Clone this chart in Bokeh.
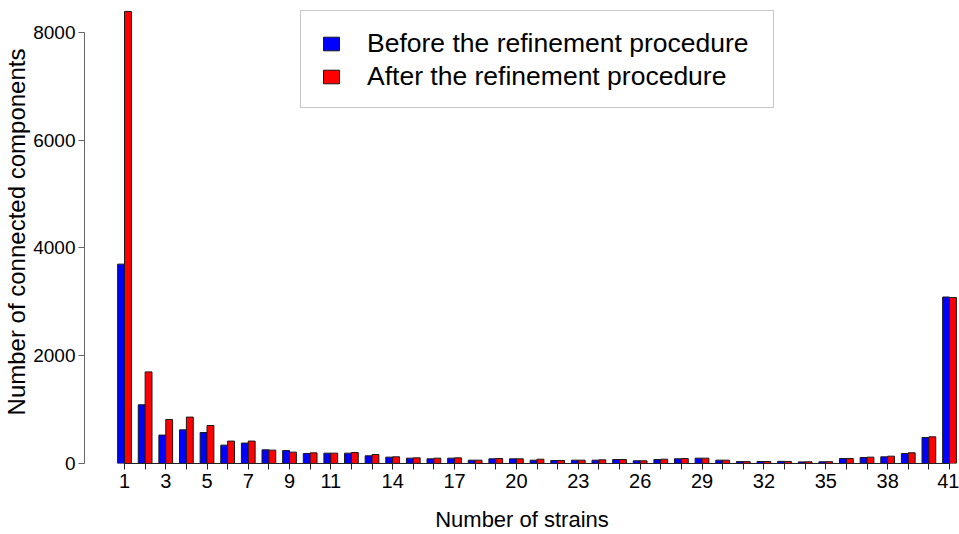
from bokeh.plotting import figure
from bokeh.models import Range1d, FixedTicker, Legend, LegendItem, BoxAnnotation
from bokeh.embed import file_html
from bokeh.resources import INLINE
import numpy as np

# Number of strains per connected component (1..41)
strains = list(range(1, 42))

# Component counts before and after refinement
before = [3700, 1090, 527, 625, 575, 341, 379, 254, 241, 186,
          192, 192, 143, 118, 99, 87, 99, 62, 87, 87,
          62, 56, 62, 62, 74, 50, 74, 87, 99, 62,
          35, 37, 40, 30, 32, 93, 111, 124, 186, 483,
          3090]
after = [8390, 1700, 817, 861, 705, 416, 416, 248, 211, 198,
         192, 204, 167, 124, 105, 99, 105, 62, 93, 87,
         80, 56, 62, 68, 74, 50, 80, 93, 99, 62,
         35, 37, 38, 32, 34, 93, 118, 136, 199, 495,
         3080]

# Strain counts that carry a printed tick label
labelled = [1, 3, 5, 7, 9, 11, 14, 17, 20, 23, 26, 29, 32, 35, 38, 41]

y_ticks = [0, 2000, 4000, 6000, 8000]

FONT = "Liberation Sans"

# Grouped layout: each group is two unit-width bars followed by a one-unit gap
idx = np.arange(1, len(strains) + 1)
centers = 3 * idx - 1
x_before = centers - 0.5
x_after = centers + 0.5

p = figure(width=959, height=534, output_backend="svg", toolbar_location=None,
           x_range=Range1d(-3.82, 123.45), y_range=Range1d(0, 8593),
           min_border_left=84, min_border_right=0, min_border_top=0,
           min_border_bottom=71)
p.outline_line_color = None
p.xgrid.visible = False
p.ygrid.visible = False
p.background_fill_color = "white"
p.border_fill_color = "white"

r_before = p.vbar(x=x_before, top=before, bottom=0, width=1.0,
                  fill_color="#0000FF", line_color="#1a1a1a", line_width=1)
r_after = p.vbar(x=x_after, top=after, bottom=0, width=1.0,
                 fill_color="#FF0000", line_color="#1a1a1a", line_width=1)

# x axis: a tick under every group, labels only where they fit
xa = p.xaxis[0]
xa.ticker = FixedTicker(ticks=[int(c) for c in centers])
xa.major_label_overrides = {int(c): (str(s) if s in labelled else "")
                            for c, s in zip(centers, strains)}
xa.bounds = (int(centers[0]), int(centers[-1]))
xa.minor_tick_line_color = None
xa.major_tick_in = 0
xa.major_tick_out = 6
xa.major_label_standoff = 4
xa.axis_line_color = "#222222"
xa.major_tick_line_color = "#222222"
xa.major_label_text_font = FONT
xa.major_label_text_font_size = "20px"
xa.major_label_text_color = "black"
xa.axis_label = "Number of strains"
xa.axis_label_text_font = FONT
xa.axis_label_text_font_size = "22px"
xa.axis_label_text_font_style = "normal"
xa.axis_label_text_color = "black"
xa.axis_label_standoff = 16

ya = p.yaxis[0]
ya.ticker = FixedTicker(ticks=y_ticks)
ya.bounds = (y_ticks[0], y_ticks[-1])
ya.minor_tick_line_color = None
ya.major_tick_in = 0
ya.major_tick_out = 6
ya.major_label_standoff = 3
ya.axis_line_color = "#666666"
ya.major_tick_line_color = "#666666"
ya.major_label_orientation = "horizontal"
ya.major_label_text_font = FONT
ya.major_label_text_font_size = "19px"
ya.major_label_text_color = "black"
ya.axis_label = "Number of connected components"
ya.axis_label_text_font = FONT
ya.axis_label_text_font_size = "24px"
ya.axis_label_text_font_style = "normal"
ya.axis_label_text_color = "black"
ya.axis_label_standoff = 0

# Legend frame drawn separately so its padding can differ per side
legend_box = BoxAnnotation(left=216, right=689, bottom=356, top=453,
                           left_units="screen", right_units="screen",
                           bottom_units="screen", top_units="screen",
                           fill_color="white", fill_alpha=1.0,
                           line_color="#444444", line_width=1)
p.add_layout(legend_box)

legend = Legend(items=[
    LegendItem(label="Before the refinement procedure", renderers=[r_before]),
    LegendItem(label="After the refinement procedure", renderers=[r_after]),
], location=(237, 371))
legend.label_text_font = FONT
legend.label_text_font_size = "26.5px"
legend.label_text_color = "black"
legend.glyph_width = 20
legend.glyph_height = 17
legend.label_standoff = 26
legend.padding = 0
legend.spacing = 2
legend.margin = 0
legend.border_line_color = None
legend.background_fill_alpha = 0.0
p.add_layout(legend, "center")

open("out.html", "w").write(file_html(p, INLINE))
